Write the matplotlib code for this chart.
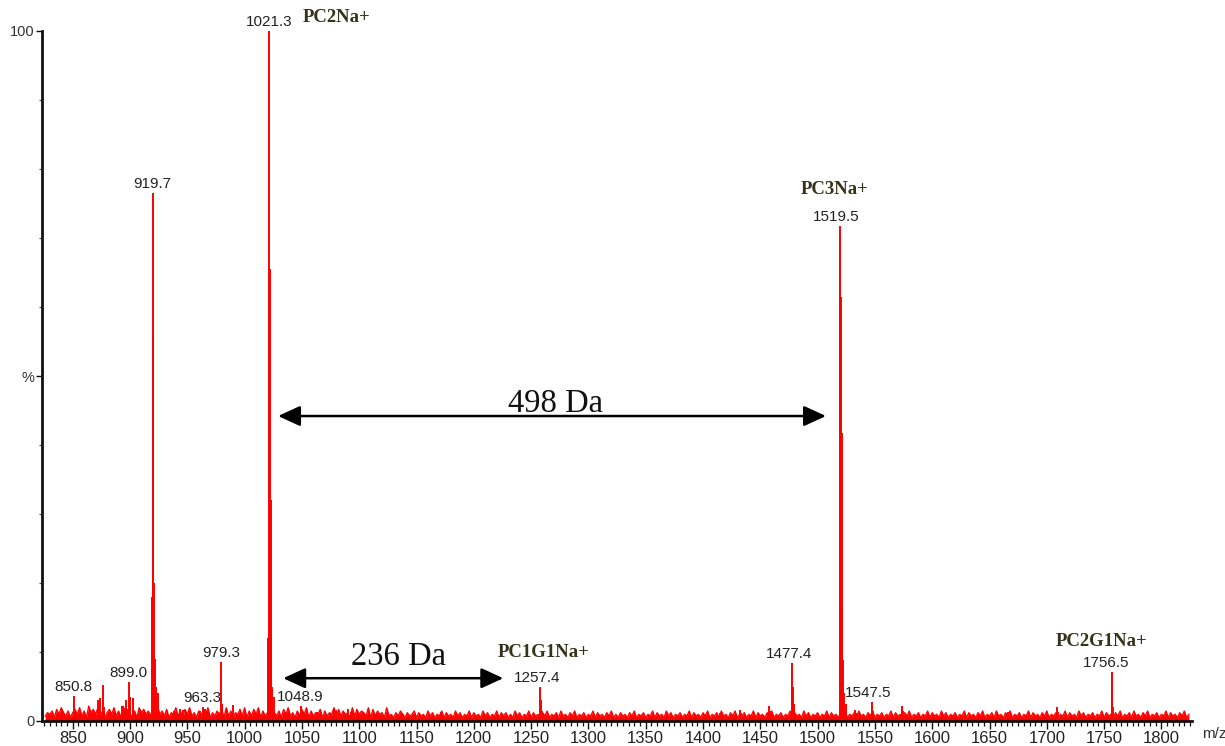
import matplotlib
matplotlib.use("Agg")
import matplotlib.pyplot as plt
from matplotlib.ticker import MultipleLocator, FixedLocator
import numpy as np

# ---------------- data ----------------
# resolved peaks: m/z and relative intensity (%)
peak_mz = [833.0, 850.8, 851.8, 872.5, 874.0, 876.5, 877.5, 893.0, 896.5, 899.0, 900.0, 903.0,
           919.0, 919.7, 920.4, 921.1, 921.8, 922.5, 924.0,
           938.0, 944.0, 946.0, 961.0, 963.3, 965.0, 967.0, 979.3, 980.3, 989.5,
           1020.6, 1021.3, 1022.0, 1022.7, 1023.4, 1024.1, 1026.0,
           1048.9, 1063.0, 1078.0, 1080.0, 1090.0, 1093.0, 1115.0, 1138.0, 1171.0,
           1257.4, 1258.3, 1259.2, 1415.0, 1432.0, 1433.0, 1458.0, 1459.0,
           1477.4, 1478.3, 1479.2,
           1519.5, 1520.2, 1520.9, 1521.6, 1522.3, 1523.0, 1525.0,
           1533.0, 1534.0, 1547.5, 1548.3, 1573.5, 1574.5, 1625.0, 1666.0, 1709.0, 1710.0,
           1756.5, 1757.3, 1758.1, 1765.0]
peak_int = [1.2, 3.6, 1.5, 3.0, 3.3, 5.2, 2.0, 2.2, 3.0, 5.7, 3.5, 3.3,
            18.0, 76.5, 55.5, 20.0, 9.0, 5.0, 4.0,
            1.5, 1.8, 1.6, 1.5, 2.0, 1.8, 1.4, 8.5, 2.5, 2.3,
            12.0, 100.0, 65.5, 32.0, 12.0, 5.0, 3.5,
            2.2, 1.3, 1.9, 1.6, 1.7, 1.3, 1.0, 1.0, 1.3,
            4.9, 3.0, 1.5, 1.2, 1.6, 1.2, 2.2, 1.5,
            8.4, 5.0, 2.5,
            71.7, 61.4, 41.7, 16.0, 8.8, 4.0, 2.5,
            1.6, 1.2, 2.8, 1.5, 2.2, 1.5, 0.8, 1.3, 2.0, 1.3,
            7.1, 4.0, 2.0, 0.9]

# baseline noise, one digit per 2 Da starting at 826 (digit x 0.24 %)
noise_start = 826.0
noise_step = 2.0
noise_rows = [
    "35462748536257483629574836257483629574362857463829",
    "46372548362748352637482536472836254738263748263547",
    "53627483526374826354726354827364528374653827364528",
    "34253642534625342635243625342635243625342635243625",
    "35242635243625342536243526342536243524362534253624",
    "25342536243524362534263524352436253425362435263425",
    "36243524362534253624352436253426352435243625342536",
    "24352634253624352436253425362435243625342635243524",
    "36253425362435263425362435243625342536243524362534",
    "26352435243625342536243526342536243524362534253624",
]
noise_scale = 0.24

label_mz = [850.8, 899.0, 919.7, 963.3, 979.3, 1021.3, 1048.9, 1257.4, 1477.4, 1519.5, 1547.5, 1756.5]
ion_names = ["PC2Na+", "PC1G1Na+", "PC3Na+", "PC2G1Na+"]
ion_mz = [1021.3, 1257.4, 1519.5, 1756.5]

x_ticks = list(range(850, 1801, 50))
y_ticks = [0, 50, 100]
y_tick_labels = ["0", "%", "100"]

# ---------------- figure ----------------
RED = "#ff0000"
fig = plt.figure(figsize=(12.25, 7.46), dpi=100)
ax = fig.add_axes([42 / 1225, 25 / 746, 1150 / 1225, 690 / 746])

noise_vals = np.array([int(c) for c in "".join(noise_rows)], dtype=float) * noise_scale
noise_x = noise_start + noise_step * np.arange(len(noise_vals))
ax.fill_between(noise_x, 0, noise_vals, color=RED, lw=0, zorder=2)
ax.plot(noise_x, noise_vals, color=RED, lw=1.0, zorder=2)

ax.vlines(peak_mz, 0, peak_int, colors=RED, lw=1.4, zorder=3)

ax.set_xlim(823.2, 1826.7)
ax.set_ylim(0, 100)

for s in ["top", "right"]:
    ax.spines[s].set_visible(False)
for s in ["left", "bottom"]:
    ax.spines[s].set_linewidth(2.0)
    ax.spines[s].set_color("#111111")
    ax.spines[s].set_zorder(5)

ax.xaxis.set_major_locator(FixedLocator(x_ticks))
ax.xaxis.set_minor_locator(MultipleLocator(5))
ax.set_xticklabels([str(t) for t in x_ticks])
ax.yaxis.set_major_locator(FixedLocator(y_ticks))
ax.yaxis.set_minor_locator(MultipleLocator(10))
ax.set_yticklabels(y_tick_labels)

ax.tick_params(axis="x", which="major", direction="out", length=5.5, width=1.0, pad=1.5,
               labelsize=12, labelcolor="#222222", color="#111111")
ax.tick_params(axis="x", which="minor", direction="out", length=3.5, width=0.9, color="#111111")
ax.tick_params(axis="y", which="major", direction="out", length=4, width=1.0, pad=1.5,
               labelsize=10.5, labelcolor="#333333", color="#111111")
ax.tick_params(axis="y", which="minor", direction="out", length=2.5, width=0.9, color="#555555")
for lab in ax.get_xticklabels() + ax.get_yticklabels():
    lab.set_family(["Liberation Sans", "DejaVu Sans"])

ax.annotate("m/z", xy=(1, 0), xycoords="axes fraction", xytext=(7, -9),
            textcoords="offset points", ha="left", va="center", fontsize=11,
            color="#333333", family=["Liberation Sans", "DejaVu Sans"])

# peak labels
lab_dx = {1257.4: -1.5, 1477.4: -2.0, 1519.5: -3.0, 1547.5: -3.0, 1756.5: -4.0}
pmz = np.array(peak_mz)
pint = np.array(peak_int)
label_top = {}
for m in label_mz:
    h = pint[np.argmin(np.abs(pmz - m))]
    label_top[m] = h
    ax.annotate(f"{m:.1f}", xy=(m, h), xytext=(lab_dx.get(m, 0.0), 1.5), textcoords="offset points",
                ha="center", va="bottom", fontsize=11, color="#222222",
                family=["Liberation Sans", "DejaVu Sans"],
                annotation_clip=False, zorder=6)

# ion names
ion_off = {"PC2Na+": (24, 3.5, "left"), "PC1G1Na+": (3, 19, "center"),
           "PC3Na+": (-4, 20, "center"), "PC2G1Na+": (-7, 16, "center")}
for name, m in zip(ion_names, ion_mz):
    dx, dy, ha = ion_off[name]
    ax.annotate(name, xy=(m, label_top[m]), xytext=(dx, dy), textcoords="offset points",
                ha=ha, va="bottom", fontsize=13.5, fontweight="bold", color="#33331a",
                family=["Liberation Serif", "DejaVu Serif"], annotation_clip=False, zorder=6)

# mass differences
arrow_kw = dict(arrowstyle="<|-|>,head_length=1.35,head_width=0.62", color="black",
                lw=1.8, mutation_scale=10, shrinkA=0, shrinkB=0)
ax.annotate("", xy=(1029.2, 44.2), xytext=(1507.3, 44.2), arrowprops=arrow_kw, zorder=6)
ax.text(1271.7, 46.0, "498 Da", ha="center", va="center", fontsize=23.5,
        family=["Liberation Serif", "DejaVu Serif"], color="#111111", zorder=6)
ax.annotate("", xy=(1033.7, 6.2), xytext=(1225.7, 6.2), arrowprops=arrow_kw, zorder=6)
ax.text(1134.0, 9.3, "236 Da", ha="center", va="center", fontsize=23.5,
        family=["Liberation Serif", "DejaVu Serif"], color="#111111", zorder=6)

fig.savefig("out.png", dpi=100, facecolor="white")
